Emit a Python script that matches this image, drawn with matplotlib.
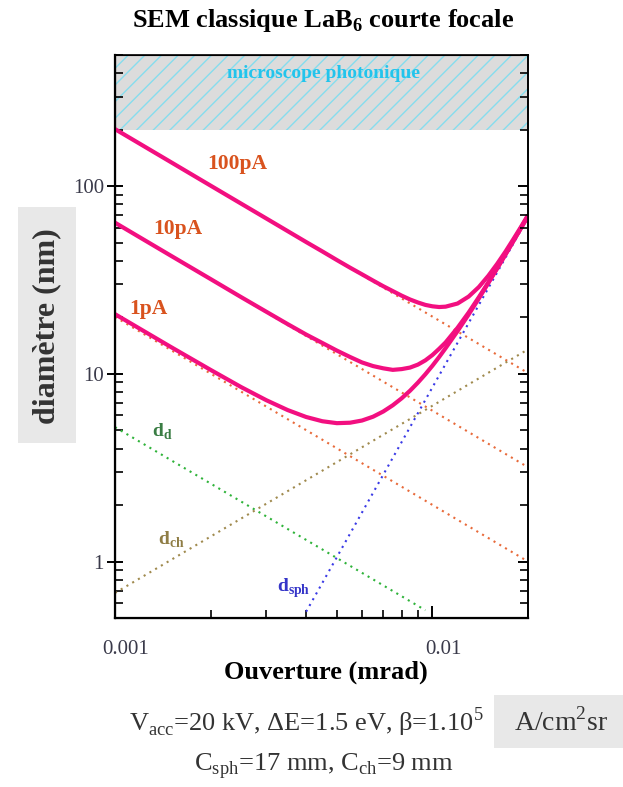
import matplotlib
matplotlib.use("Agg")
import matplotlib.pyplot as plt
import matplotlib.transforms as mtransforms
from matplotlib.patches import Rectangle
from matplotlib.ticker import LogLocator, NullFormatter, FixedLocator, FixedFormatter

plt.rcParams['font.family'] = ['Liberation Serif', 'DejaVu Serif']
plt.rcParams['mathtext.fontset'] = 'custom'
plt.rcParams['mathtext.rm'] = 'Liberation Serif'
plt.rcParams['mathtext.bf'] = 'Liberation Serif:bold'
plt.rcParams['hatch.linewidth'] = 1.0

# apertures (x axis) and total probe diameters (nm)
alpha = [0.001, 0.0015, 0.002, 0.0025, 0.003, 0.0035, 0.004, 0.0045, 0.005, 0.0055,
         0.006, 0.0065, 0.007, 0.0075, 0.008, 0.0085, 0.009, 0.0095, 0.010, 0.0105,
         0.011, 0.012, 0.013, 0.014, 0.015, 0.016, 0.017, 0.018, 0.019, 0.020]
d_100pA = [201.4, 134.3, 100.7, 80.6, 67.2, 57.6, 50.4, 44.9, 40.4, 36.8,
           33.9, 31.4, 29.3, 27.6, 26.1, 24.9, 24.0, 23.3, 22.9, 22.7,
           22.8, 23.7, 25.8, 29.0, 33.3, 38.6, 44.9, 52.3, 60.6, 70.1]
d_10pA = [63.9, 42.6, 32.0, 25.6, 21.4, 18.4, 16.2, 14.6, 13.3, 12.3,
          11.5, 11.0, 10.7, 10.5, 10.6, 10.8, 11.2, 11.8, 12.6, 13.6,
          14.7, 17.6, 21.2, 25.6, 30.7, 36.7, 43.5, 51.2, 59.8, 69.4]
d_1pA = [20.8, 13.9, 10.5, 8.49, 7.23, 6.41, 5.89, 5.59, 5.46, 5.49,
         5.64, 5.91, 6.30, 6.80, 7.41, 8.13, 8.98, 9.95, 11.05, 12.3,
         13.7, 16.9, 20.7, 25.2, 30.5, 36.5, 43.3, 51.1, 59.7, 69.3]

# individual contributions (straight lines in log-log, end points)
a_full = [0.001, 0.02]
d0_100pA = [201.0, 10.1]
d0_10pA = [63.7, 3.18]
d0_1pA = [20.1, 1.0]
a_dd = [0.001, 0.0095]
dd = [5.2, 0.55]
dch = [0.68, 13.5]
a_sph = [0.004, 0.02]
dsph = [0.54, 68.0]

pink = '#f20f80'
orange = '#e86a3a'
lab_orange = '#d9531e'
dots = (0, (1, 2.2))

fig = plt.figure(figsize=(6.23, 7.87), dpi=100)
ax = fig.add_axes([115/623, 1-618/787, 413/623, 563/787])

ax.set_xscale('log')
ax.set_yscale('log')
ax.set_xlim(0.001, 0.02)
ax.set_ylim(0.5, 500)

# zone of the light microscope
ax.axhspan(200, 500, facecolor='#dcdcdc', edgecolor='#86dcee', hatch='//', linewidth=0, zorder=0)
ax.text(0.00454, 400, 'microscope photonique', color='#22c4ec', fontsize=14, fontweight='bold',
        ha='center', va='center')

for d0 in [d0_100pA, d0_10pA, d0_1pA]:
    ax.plot(a_full, d0, color=orange, lw=1.5, ls=dots)
ax.plot(a_dd, dd, color='#2fb33a', lw=1.5, ls=dots)
ax.plot(a_full, dch, color='#a08a4e', lw=1.5, ls=dots)
ax.plot(a_sph, dsph, color='#3a3ae6', lw=1.5, ls=dots)

for d in [d_100pA, d_10pA, d_1pA]:
    ax.plot(alpha, d, color=pink, lw=3, solid_capstyle='butt', zorder=5)

ax.text(0.00242, 131, '100pA', color=lab_orange, fontsize=15.5, fontweight='bold', ha='center', va='center')
ax.text(0.00158, 59, '10pA', color=lab_orange, fontsize=15.5, fontweight='bold', ha='center', va='center')
ax.text(0.00127, 22.2, '1pA', color=lab_orange, fontsize=15.5, fontweight='bold', ha='center', va='center')
ax.text(0.00141, 4.9, r'd$_\mathbf{d}$', color='#3a7d44', fontsize=14, fontweight='bold', ha='center', va='center')
ax.text(0.00150, 1.30, r'd$_\mathbf{ch}$', color='#8f7d45', fontsize=14, fontweight='bold', ha='center', va='center')
ax.text(0.00365, 0.72, r'd$_\mathbf{sph}$', color='#3535c8', fontsize=14, fontweight='bold', ha='center', va='center')

for s in ax.spines.values():
    s.set_linewidth(1.6)
ax.spines['top'].set_linewidth(1.2)
ax.spines['right'].set_linewidth(1.2)

ax.yaxis.set_major_locator(FixedLocator([1, 10, 100]))
ax.yaxis.set_major_formatter(FixedFormatter(['1', '10', '100']))
ax.yaxis.set_minor_locator(LogLocator(base=10, subs=range(2, 10)))
ax.yaxis.set_minor_formatter(NullFormatter())
ax.xaxis.set_major_locator(FixedLocator([0.001, 0.01]))
ax.xaxis.set_major_formatter(FixedFormatter(['0.001', '0.01']))
ax.xaxis.set_minor_locator(LogLocator(base=10, subs=range(2, 10)))
ax.xaxis.set_minor_formatter(NullFormatter())

ax.tick_params(axis='y', which='major', direction='inout', length=12, width=1.4,
               labelsize=15, labelcolor='#3a3a4a', pad=2)
ax.tick_params(axis='y', which='minor', direction='in', length=6, width=1.2)
ax.tick_params(axis='x', which='major', direction='in', length=9, width=1.4,
               labelsize=15, labelcolor='#3a3a4a', pad=16)
ax.tick_params(axis='x', which='minor', direction='in', length=6, width=1.2)

# right side ticks point inward only
ax_r = ax.twinx()
ax_r.set_yscale('log')
ax_r.set_ylim(ax.get_ylim())
ax_r.yaxis.set_major_locator(FixedLocator([1, 10, 100]))
ax_r.yaxis.set_minor_locator(LogLocator(base=10, subs=range(2, 10)))
ax_r.yaxis.set_major_formatter(NullFormatter())
ax_r.yaxis.set_minor_formatter(NullFormatter())
ax_r.tick_params(axis='y', which='major', direction='in', length=7, width=1.4)
ax_r.tick_params(axis='y', which='minor', direction='in', length=6, width=1.2)
ax_r.spines['right'].set_linewidth(1.2)

shift = mtransforms.ScaledTranslation(11/100, 0, fig.dpi_scale_trans)
for lbl in ax.get_xticklabels():
    lbl.set_transform(lbl.get_transform() + shift)

# titles and captions
fig.text(323/623, 1-20/787, r'SEM classique LaB$_\mathbf{6}$ courte focale', fontsize=19,
         fontweight='bold', ha='center', va='center')
fig.text(326/623, 1-672/787, 'Ouverture (mrad)', fontsize=19, fontweight='bold',
         ha='center', va='center')

fig.add_artist(Rectangle((18/623, 1-443/787), 58/623, 236/787, transform=fig.transFigure,
                         facecolor='#e8e8e8', edgecolor='none'))
fig.text(47/623, 1-326/787, 'diamètre (nm)', fontsize=23, fontweight='bold', rotation=90,
         ha='center', va='center', color='#333333')

fig.add_artist(Rectangle((494/623, 1-748/787), 129/623, 53/787, transform=fig.transFigure,
                         facecolor='#e8e8e8', edgecolor='none'))
fig.text(561/623, 1-722/787, r'A/cm$^\mathrm{2}$sr', fontsize=20, ha='center', va='center', color='#333333')
fig.text(306/623, 1-722/787, r'V$_\mathrm{acc}$=20 kV, ΔE=1.5 eV, β=1.10$^\mathrm{5}$',
         fontsize=19, ha='center', va='center', color='#333333')
fig.text(324/623, 1-766/787, r'C$_\mathrm{sph}$=17 mm, C$_\mathrm{ch}$=9 mm',
         fontsize=19, ha='center', va='center', color='#333333')

fig.savefig('out.png', dpi=100, facecolor='w')
